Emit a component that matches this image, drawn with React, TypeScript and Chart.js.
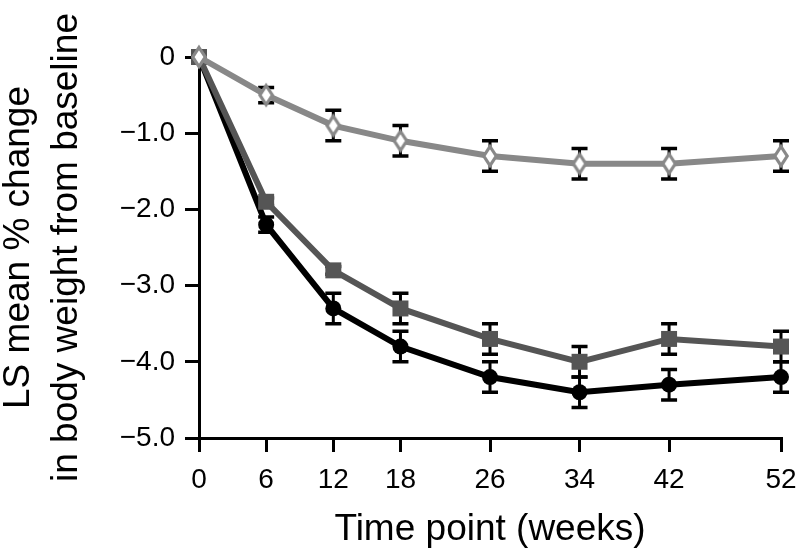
import { useEffect, useRef } from 'react';
import { Chart, registerables } from 'chart.js';

Chart.register(...registerables);

const weeks = [0, 6, 12, 18, 26, 34, 42, 52];
const placeboValues = [0, -0.5, -0.9, -1.1, -1.3, -1.4, -1.4, -1.3];
const placeboErrors = [0, 0.1, 0.2, 0.2, 0.2, 0.2, 0.2, 0.2];
const midValues = [0, -1.9, -2.8, -3.3, -3.7, -4.0, -3.7, -3.8];
const midErrors = [0, 0.05, 0.05, 0.2, 0.2, 0.2, 0.2, 0.2];
const highValues = [0, -2.2, -3.3, -3.8, -4.2, -4.4, -4.3, -4.2];
const highErrors = [0, 0.1, 0.2, 0.2, 0.2, 0.2, 0.2, 0.2];
const xTickValues = [0, 6, 12, 18, 26, 34, 42, 52];
const yTickValues = [0, -1, -2, -3, -4, -5];
const yTickLabels = ['0', '\u22121.0', '\u22122.0', '\u22123.0', '\u22124.0', '\u22125.0'];
const xTitle = 'Time point (weeks)';
const yTitle = ['LS mean % change', 'in body weight from baseline'];

const FONT = '"Liberation Sans", Arial, Helvetica, sans-serif';

const errorBarPlugin = {
  id: 'errorBars',
  beforeDatasetsDraw(chart: any) {
    const ctx = chart.ctx;
    const yScale = chart.scales.y;
    chart.data.datasets.forEach((ds: any, i: number) => {
      const errs: number[] = ds.errors;
      if (!errs) return;
      const meta = chart.getDatasetMeta(i);
      meta.data.forEach((pt: any, j: number) => {
        const e = errs[j];
        if (!e) return;
        const v = ds.data[j].y;
        const top = yScale.getPixelForValue(v + e);
        const bot = yScale.getPixelForValue(v - e);
        const cap = 8;
        ctx.save();
        ctx.strokeStyle = '#000';
        ctx.lineCap = 'butt';
        ctx.lineWidth = 3;
        ctx.beginPath();
        ctx.moveTo(pt.x, top);
        ctx.lineTo(pt.x, bot);
        ctx.stroke();
        ctx.lineWidth = 3.5;
        ctx.beginPath();
        ctx.moveTo(pt.x - cap, top);
        ctx.lineTo(pt.x + cap, top);
        ctx.moveTo(pt.x - cap, bot);
        ctx.lineTo(pt.x + cap, bot);
        ctx.stroke();
        ctx.restore();
      });
    });
  },
};

function makeDiamond(): HTMLCanvasElement {
  const c = document.createElement('canvas');
  c.width = 22;
  c.height = 28;
  const g = c.getContext('2d')!;
  g.beginPath();
  g.moveTo(11, 4.5);
  g.lineTo(17.2, 14);
  g.lineTo(11, 23.5);
  g.lineTo(4.8, 14);
  g.closePath();
  g.fillStyle = '#fff';
  g.fill();
  g.strokeStyle = '#888';
  g.lineWidth = 3.2;
  g.stroke();
  return c;
}

export default function App() {
  const ref = useRef<HTMLCanvasElement>(null);
  useEffect(() => {
    if (!ref.current) return;
    const diamond = makeDiamond();
    const toPts = (vals: number[]) => weeks.map((w, i) => ({ x: w, y: vals[i] }));
    const chart = new Chart(ref.current, {
      type: 'line',
      data: {
        datasets: [
          {
            label: 'Placebo',
            data: toPts(placeboValues),
            errors: placeboErrors,
            borderColor: '#888',
            borderWidth: 6,
            pointStyle: diamond,
            pointRadius: 9,
            clip: false,
          } as any,
          {
            label: 'Dose 1',
            data: toPts(midValues),
            errors: midErrors,
            borderColor: '#555',
            backgroundColor: '#555',
            borderWidth: 6,
            pointStyle: 'rect',
            pointRadius: 11.3,
            pointBorderWidth: 0,
            pointBackgroundColor: '#555',
            clip: false,
          } as any,
          {
            label: 'Dose 2',
            data: toPts(highValues),
            errors: highErrors,
            borderColor: '#000',
            backgroundColor: '#000',
            borderWidth: 6,
            pointStyle: 'circle',
            pointRadius: 8,
            pointBorderWidth: 0,
            pointBackgroundColor: '#000',
            clip: false,
          } as any,
        ],
      },
      options: {
        animation: false,
        responsive: true,
        maintainAspectRatio: false,
        layout: { padding: { left: 0, top: 57, right: 18, bottom: 0 } },
        plugins: { legend: { display: false }, tooltip: { enabled: false } },
        scales: {
          x: {
            type: 'linear',
            min: 0,
            max: 52,
            afterBuildTicks: (s: any) => {
              s.ticks = xTickValues.map((v) => ({ value: v }));
            },
            afterFit: (s: any) => {
              s.height = 115;
              s.paddingLeft = 0;
              s.paddingRight = 0;
            },
            ticks: {
              color: '#000',
              font: { family: FONT, size: 28 },
              padding: 11,
              maxRotation: 0,
              callback: (v: any) => String(v),
            },
            grid: {
              display: true,
              drawOnChartArea: false,
              drawTicks: true,
              tickLength: 14,
              lineWidth: 3,
              color: '#000',
            },
            border: { display: true, width: 3, color: '#000' },
            title: {
              display: true,
              text: xTitle,
              color: '#000',
              font: { family: FONT, size: 37, lineHeight: 1.2 },
              padding: { top: 0, bottom: 1 },
            },
          },
          y: {
            type: 'linear',
            min: -5,
            max: 0,
            afterBuildTicks: (s: any) => {
              s.ticks = yTickValues.map((v) => ({ value: v }));
            },
            afterFit: (s: any) => {
              s.width = 199;
              s.paddingTop = 0;
              s.paddingBottom = 0;
            },
            ticks: {
              color: '#000',
              font: { family: FONT, size: 28 },
              padding: 10,
              callback: (v: any) => {
                const idx = yTickValues.indexOf(Number(v));
                return idx >= 0 ? yTickLabels[idx] : '';
              },
            },
            grid: {
              display: true,
              drawOnChartArea: false,
              drawTicks: true,
              tickLength: 14,
              lineWidth: 3,
              color: '#000',
            },
            border: { display: true, width: 3, color: '#000' },
            title: {
              display: true,
              text: yTitle,
              color: '#000',
              font: { family: FONT, size: 37, lineHeight: 1.28 },
              padding: { top: -4.5, bottom: 0 },
            },
          },
        },
      },
      plugins: [errorBarPlugin],
    });
    return () => chart.destroy();
  }, []);
  return (
    <div style={{ position: 'fixed', left: 0, top: 0, width: 799, height: 553, background: '#fff' }}>
      <canvas ref={ref} />
    </div>
  );
}
